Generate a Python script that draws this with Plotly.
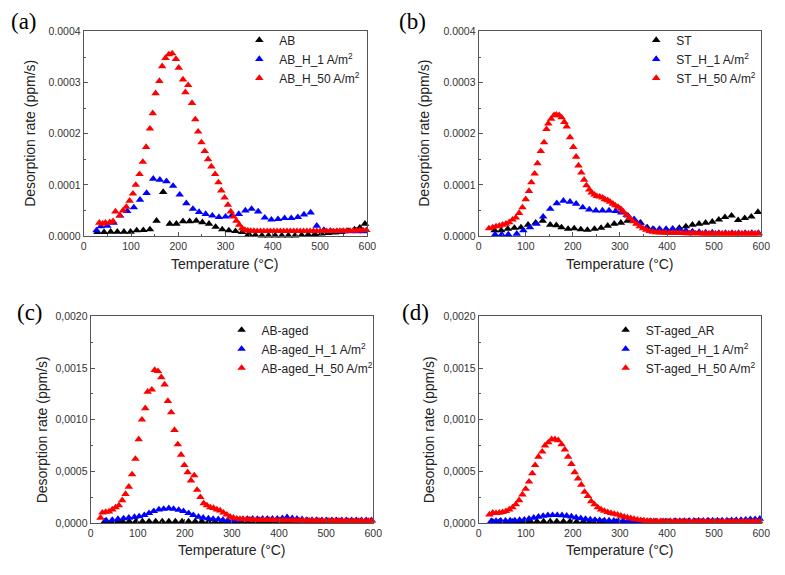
import plotly.graph_objects as go

# ---------------- data (temperature in °C, rate in units noted) ----------------
# Panel (a)  rates in 1e-5 ppm/s
AB = [(29,0.77),(43,0.77),(57,0.83),(71,0.83),(85,0.83),(99,0.83),(112,1.1),(126,1.15),(140,1.3),
      (154,3.0),(168,8.6),(182,2.4),(196,2.4),(210,2.9),(224,2.9),(238,3.0),(251,2.7),(265,2.4),
      (279,1.8),(293,1.3),(307,1.1),(321,0.96),(335,0.77),(349,0.4),(363,0.2),(377,0.1),(391,0.1),
      (405,0.1),(419,0.1),(433,0.1),(447,0.1),(461,0.2),(475,0.3),(489,0.4),(503,0.5),(517,0.6),
      (531,0.7),(545,0.8),(559,1.0),(573,1.3),(584,1.65),(595,2.4)]
AB_H1 = [(27,1.1),(36,1.9),(50,2.0),(63,2.6),(77,4.0),(92,4.9),(106,5.6),(119,7.1),(133,8.4),
         (147,11.2),(161,11.0),(175,10.7),(189,9.8),(203,8.1),(217,6.4),(231,5.3),(244,4.7),
         (258,4.3),(272,4.0),(286,3.7),(300,3.8),(313,4.0),(328,4.3),(342,5.0),(355,5.3),(369,4.8),
         (383,3.6),(397,3.2),(411,3.3),(425,3.5),(439,3.5),(453,3.7),(466,4.2),(480,4.6),(493,2.0),
         (508,1.2),(522,1.0),(536,0.9),(550,0.9),(564,0.9),(578,0.9),(592,0.9)]
AB_H50 = [(33,2.6),(40,2.4),(46,2.6),(55,2.7),(62,2.9),(67,4.8),(76,4.0),(83,5.0),(90,5.7),(97,6.9),
          (104,8.3),(110,10.0),(118,12.1),(125,14.5),(132,17.4),(140,21.0),(146,24.0),(152,27.9),
          (160,30.3),(166,33.2),(173,34.8),(180,35.5),(187,35.7),(195,34.6),(201,32.9),(210,30.6),
          (215,28.1),(221,29.5),(229,26.0),(236,22.8),(242,20.4),(249,18.3),(256,16.6),(263,15.0),
          (270,13.6),(278,12.1),(285,10.5),(291,8.9),(298,7.5),(305,6.1),(311,4.8),(317,3.8),
          (323,3.0),(329,2.2),(335,1.5),(341,1.2),(347,1.05),(353,1.0),(360,1.0),(367,0.95),
          (374,0.95),(381,0.95),(388,0.95),(395,0.95),(402,0.95),(409,0.95),(416,0.95),(423,0.95),
          (430,0.95),(437,0.95),(444,0.95),(451,0.95),(458,0.95),(465,0.95),(472,0.95),(479,0.95),
          (486,0.95),(493,0.95),(500,0.95),(507,0.95),(514,0.95),(521,0.95),(528,0.95),(535,0.95),
          (542,1.0),(549,1.0),(556,1.0),(563,1.0),(570,1.05),(577,1.05),(584,1.1),(591,1.1),(598,1.15)]

# Panel (b)  rates in 1e-5 ppm/s
ST = [(34,1.1),(48,1.1),(62,1.4),(76,1.6),(90,1.7),(105,2.2),(121,2.6),(136,3.0),(152,2.2),
      (165,2.1),(176,1.7),(190,1.4),(203,1.5),(217,1.3),(231,1.2),(246,1.4),(260,1.6),(274,2.0),
      (288,2.4),(302,2.6),(316,3.0),(330,3.1),(344,2.6),(358,1.7),(372,1.3),(386,1.1),(400,1.0),
      (412,1.4),(426,1.6),(440,1.9),(454,2.2),(468,2.4),(482,2.6),(496,2.8),(510,3.2),(523,3.7),
      (537,4.0),(551,3.1),(565,3.5),(579,3.8),(593,4.7)]
ST_H1 = [(35,0.3),(49,0.3),(63,0.3),(81,0.45),(95,1.1),(109,1.7),(123,2.4),(137,3.8),(152,5.3),
         (166,6.4),(180,6.9),(194,6.7),(207,6.3),(221,5.6),(235,5.2),(249,5.0),(263,5.0),(277,5.0),
         (291,4.9),(303,4.6),(317,4.0),(330,3.3),(342,2.5),(356,1.6),(370,1.4),(384,1.4),(398,1.4),
         (412,1.4),(426,1.3),(440,1.1),(454,0.9),(468,0.8),(482,0.7),(496,0.7),(510,0.6),(524,0.6),
         (538,0.6),(552,0.6),(566,0.6),(580,0.6),(594,0.6)]
ST_H50 = [(22,1.5),(30,1.7),(37,1.9),(44,2.0),(51,2.2),(58,2.4),(65,2.7),(72,3.2),(79,3.6),(86,4.5),
          (93,5.6),(100,7.2),(107,8.8),(112,10.5),(119,12.2),(125,14.2),(132,16.6),(139,18.3),
          (144,20.9),(148,22.0),(154,22.9),(160,23.6),(165,23.7),(171,23.6),(176,23.2),(182,22.3),
          (187,21.4),(194,19.3),(201,17.4),(207,15.5),(212,13.8),(218,12.4),(224,11.0),(229,9.9),
          (235,9.1),(240,8.5),(246,8.1),(251,7.8),(257,7.7),(263,7.5),(268,7.2),(274,7.0),(279,6.7),
          (285,6.3),(290,6.0),(296,5.7),(302,5.3),(307,4.8),(314,4.1),(321,3.5),(328,2.9),(335,2.4),
          (342,1.9),(349,1.5),(356,1.2),(363,0.96),(370,0.83),(377,0.75),(384,0.7),(391,0.68),
          (398,0.65),(405,0.62),(412,0.6),(419,0.6),(426,0.58),(433,0.56),(440,0.55),(447,0.55),
          (454,0.53),(461,0.52),(468,0.52),(475,0.5),(482,0.5),(489,0.5),(496,0.5),(503,0.5),
          (510,0.5),(517,0.5),(524,0.5),(531,0.5),(538,0.5),(545,0.5),(552,0.5),(559,0.5),(566,0.5),
          (573,0.5),(580,0.5),(587,0.5),(594,0.5)]

# Panel (c)  rates in 1e-4 ppm/s
ABA = [(30,0.15),(44,0.15),(58,0.15),(68,0.15),(82,0.15),(96,0.15),(110,0.15),(124,0.15),(138,0.15),
       (152,0.15),(166,0.15),(180,0.15),(194,0.15),(208,0.15),(222,0.15),(236,0.15),(250,0.12),
       (264,0.12),(278,0.12),(292,0.12),(306,0.12),(320,0.12),(334,0.12),(348,0.12),(362,0.12),
       (376,0.12),(390,0.12),(404,0.12),(418,0.12),(432,0.12),(446,0.12),(460,0.12),(474,0.12),
       (488,0.12),(502,0.12),(516,0.12),(530,0.12),(544,0.12),(558,0.12),(572,0.12),(586,0.12)]
ABA_H1 = [(33,0.25),(46,0.28),(58,0.38),(70,0.44),(81,0.5),(93,0.57),(103,0.63),(114,0.76),(124,0.95),
          (134,1.14),(145,1.3),(155,1.36),(166,1.42),(176,1.36),(187,1.26),(197,1.14),(208,0.95),
          (218,0.76),(229,0.6),(239,0.5),(250,0.44),(260,0.38),(271,0.35),(281,0.28),(291,0.25),
          (302,0.22),(312,0.3),(323,0.35),(333,0.38),(344,0.4),(354,0.38),(365,0.4),(375,0.42),
          (386,0.4),(396,0.42),(407,0.45),(417,0.55),(428,0.45),(438,0.4),(449,0.35),(459,0.3),
          (470,0.28),(480,0.28),(491,0.27),(501,0.27),(512,0.27),(522,0.27),(533,0.27),(543,0.27),
          (554,0.27),(564,0.27),(575,0.27),(585,0.27),(596,0.27)]
ABA_H50 = [(21,0.5),(25,1.0),(32,1.07),(39,1.1),(46,1.3),(53,1.5),(60,1.7),(67,2.2),(74,2.8),(81,3.5),
           (88,4.7),(95,6.2),(102,8.1),(109,10.0),(116,11.1),(121,12.7),(130,12.9),(136,14.8),
           (143,14.7),(150,14.1),(157,13.4),(164,11.8),(171,10.7),(178,9.0),(185,7.6),(192,6.6),
           (199,5.6),(206,4.9),(213,4.1),(220,4.6),(226,3.2),(233,2.5),(240,1.9),(247,1.7),(254,1.5),
           (261,1.45),(268,1.3),(275,1.2),(282,1.0),(289,0.8),(296,0.6),(303,0.5),(310,0.42),
           (317,0.38),(324,0.36),(331,0.34),(338,0.33),(345,0.32),(352,0.3),(359,0.3),(366,0.3),
           (373,0.28),(380,0.28),(387,0.27),(394,0.27),(401,0.26),(408,0.26),(415,0.25),(422,0.25),
           (429,0.25),(436,0.24),(443,0.24),(450,0.24),(457,0.23),(464,0.23),(471,0.23),(478,0.22),
           (485,0.22),(492,0.22),(499,0.22),(506,0.22),(513,0.21),(520,0.21),(527,0.21),(534,0.21),
           (541,0.21),(548,0.2),(555,0.2),(562,0.2),(569,0.2),(576,0.2),(583,0.2),(590,0.2),(597,0.2)]

# Panel (d)  rates in 1e-4 ppm/s
STA = [(30,0.12),(44,0.12),(58,0.12),(72,0.12),(86,0.12),(100,0.12),(110,0.15),(124,0.15),(138,0.15),
       (152,0.15),(166,0.15),(180,0.15),(194,0.15),(208,0.12),(222,0.12),(236,0.12),(250,0.12),
       (264,0.12),(278,0.12),(292,0.12),(306,0.12),(320,0.12),(334,0.12),(348,0.12),(362,0.12),
       (376,0.12),(390,0.12),(404,0.12),(418,0.12),(432,0.12),(446,0.12),(460,0.12),(474,0.12),
       (488,0.12),(502,0.12),(516,0.12),(530,0.12),(544,0.12),(558,0.12),(572,0.12),(586,0.12)]
STA_H1 = [(27,0.19),(37,0.2),(47,0.22),(57,0.22),(67,0.24),(77,0.25),(87,0.28),(97,0.32),(107,0.4),
          (117,0.5),(127,0.6),(137,0.68),(147,0.74),(157,0.76),(167,0.76),(177,0.74),(187,0.7),
          (197,0.62),(207,0.52),(217,0.45),(227,0.38),(237,0.33),(247,0.3),(257,0.27),(267,0.25),
          (277,0.24),(287,0.22),(297,0.2),(307,0.2),(317,0.18),(327,0.16),(337,0.14),(347,0.12),
          (357,0.12),(367,0.12),(377,0.12),(387,0.13),(397,0.15),(407,0.17),(417,0.19),(427,0.2),
          (437,0.2),(447,0.21),(457,0.21),(467,0.22),(477,0.22),(487,0.23),(497,0.24),(507,0.24),
          (517,0.25),(527,0.25),(537,0.26),(547,0.28),(557,0.3),(567,0.32),(577,0.35),(587,0.37),
          (597,0.4)]
STA_H50 = [(23,0.82),(30,0.98),(37,0.95),(44,0.98),(51,1.04),(58,1.14),(65,1.3),(72,1.5),(79,1.8),
           (86,2.2),(93,2.75),(100,3.3),(107,4.0),(114,4.8),(120,5.6),(127,6.4),(135,6.9),(141,7.5),
           (148,7.8),(155,8.1),(162,8.1),(169,8.0),(176,7.6),(183,7.1),(190,6.4),(197,5.7),(204,4.9),
           (211,4.3),(218,3.7),(225,3.0),(232,2.6),(239,2.1),(246,1.8),(253,1.5),(260,1.3),(267,1.17),
           (274,1.04),(281,0.95),(288,0.88),(295,0.8),(302,0.7),(309,0.6),(316,0.52),(323,0.45),
           (330,0.38),(337,0.32),(344,0.27),(351,0.23),(358,0.2),(365,0.19),(372,0.18),(379,0.17),
           (386,0.17),(393,0.16),(400,0.16),(407,0.16),(414,0.15),(421,0.15),(428,0.15),(435,0.15),
           (442,0.15),(449,0.15),(456,0.15),(463,0.15),(470,0.15),(477,0.15),(484,0.15),(491,0.15),
           (498,0.15),(505,0.15),(512,0.15),(519,0.15),(526,0.15),(533,0.15),(540,0.15),(547,0.15),
           (554,0.15),(561,0.15),(568,0.15),(575,0.15),(582,0.15),(589,0.15),(596,0.15)]

X_TICKS = [0, 100, 200, 300, 400, 500, 600]
Y_TICKS_TOP = [0.0, 0.0001, 0.0002, 0.0003, 0.0004]
Y_LABELS_TOP = ["0.0000", "0.0001", "0.0002", "0.0003", "0.0004"]
Y_TICKS_BOT = [0.0, 0.0005, 0.0010, 0.0015, 0.0020]
Y_LABELS_BOT = ["0,0000", "0,0005", "0,0010", "0,0015", "0,0020"]
X_TITLE = "Temperature (°C)"
Y_TITLE = "Desorption rate (ppm/s)"

SERIES_COLORS = ["#000000", "#0000FF", "#FF0000"]

W, H = 785, 575
SANS = "Liberation Sans, Arial, sans-serif"
SERIF = "Liberation Serif, Times New Roman, serif"


def fx(px):
    return px / W


def fy(py):
    return 1 - py / H


panels = [
    dict(lab="(a)", unit=1e-5, series=[("AB", AB), ("AB_H_1 A/m<sup>2</sup>", AB_H1), ("AB_H_50 A/m<sup>2</sup>", AB_H50)],
         xpx=(82, 370), ypx=(26, 235), yt=Y_TICKS_TOP, yl=Y_LABELS_TOP, ymax=0.0004, ymin_dt=0.00005,
         leg=(240, 20), lab_xy=(21, 16), xt_xy=(225, 263), yt_xy=(28, 130)),
    dict(lab="(b)", unit=1e-5, series=[("ST", ST), ("ST_H_1 A/m<sup>2</sup>", ST_H1), ("ST_H_50 A/m<sup>2</sup>", ST_H50)],
         xpx=(483, 770), ypx=(26, 235), yt=Y_TICKS_TOP, yl=Y_LABELS_TOP, ymax=0.0004, ymin_dt=0.00005,
         leg=(643, 20), lab_xy=(416, 16), xt_xy=(627, 263), yt_xy=(428, 130)),
    dict(lab="(c)", unit=1e-4, series=[("AB-aged", ABA), ("AB-aged_H_1 A/m<sup>2</sup>", ABA_H1), ("AB-aged_H_50 A/m<sup>2</sup>", ABA_H50)],
         xpx=(89, 376), ypx=(317, 528), yt=Y_TICKS_BOT, yl=Y_LABELS_BOT, ymax=0.0020, ymin_dt=0.00025,
         leg=(222, 316), lab_xy=(27, 313), xt_xy=(233, 556), yt_xy=(40, 433)),
    dict(lab="(d)", unit=1e-4, series=[("ST-aged_AR", STA), ("ST-aged_H_1 A/m<sup>2</sup>", STA_H1), ("ST-aged_H_50 A/m<sup>2</sup>", STA_H50)],
         xpx=(483, 770), ypx=(317, 528), yt=Y_TICKS_BOT, yl=Y_LABELS_BOT, ymax=0.0020, ymin_dt=0.00025,
         leg=(612, 316), lab_xy=(419, 313), xt_xy=(627, 556), yt_xy=(433, 433)),
]

fig = go.Figure()
layout = dict(width=W, height=H, margin=dict(l=0, r=0, t=0, b=0), hovermode=False,
              paper_bgcolor="white", plot_bgcolor="white", font=dict(family=SANS, color="#222"),
              annotations=[])

for i, p in enumerate(panels):
    n = "" if i == 0 else str(i + 1)
    xa, ya, lg = "x" + n, "y" + n, "legend" + n
    for (name, data), col in zip(p["series"], SERIES_COLORS):
        xs = [d[0] for d in data]
        ys = [d[1] * p["unit"] for d in data]
        fig.add_trace(go.Scatter(x=xs, y=ys, mode="markers", name=name, xaxis=xa, yaxis=ya, legend=lg,
                                 cliponaxis=False,
                                 marker=dict(symbol="triangle-up", size=7.5, color=col, line=dict(width=0))))
    x0, x1 = p["xpx"]
    yt, yb = p["ypx"]
    axline = dict(showline=True, linecolor="#555", linewidth=1, mirror=True, ticks="inside",
                  ticklen=4, tickcolor="#555", showgrid=False, zeroline=False,
                  tickfont=dict(size=10.5, color="#333", family=SANS))
    layout["xaxis" + n] = dict(axline, domain=[fx(x0), fx(x1)], anchor=ya, range=[0, 600],
                               tickvals=X_TICKS, ticktext=[str(v) for v in X_TICKS],
                               minor=dict(ticks="inside", ticklen=2, tickcolor="#555", dtick=50, tick0=0))
    layout["yaxis" + n] = dict(axline, domain=[fy(yb), fy(yt)], anchor=xa, range=[0, p["ymax"]],
                               tickvals=p["yt"], ticktext=p["yl"],
                               minor=dict(ticks="inside", ticklen=2, tickcolor="#555", dtick=p["ymin_dt"], tick0=0))
    lx, ly = p["leg"]
    layout[lg] = dict(x=fx(lx), y=fy(ly), xanchor="left", yanchor="top", bgcolor="rgba(0,0,0,0)",
                      font=dict(size=12, family=SANS, color="#222"), tracegroupgap=0,
                      itemsizing="trace")
    ann = layout["annotations"]
    ann.append(dict(text=p["lab"], x=fx(p["lab_xy"][0]), y=fy(p["lab_xy"][1]), xref="paper", yref="paper",
                    xanchor="center", yanchor="middle", showarrow=False,
                    font=dict(size=23, family=SERIF, color="#000")))
    ann.append(dict(text=X_TITLE, x=fx(p["xt_xy"][0]), y=fy(p["xt_xy"][1]), xref="paper", yref="paper",
                    xanchor="center", yanchor="middle", showarrow=False,
                    font=dict(size=14, family=SANS, color="#222")))
    ann.append(dict(text=Y_TITLE, x=fx(p["yt_xy"][0]), y=fy(p["yt_xy"][1]), xref="paper", yref="paper",
                    xanchor="center", yanchor="middle", showarrow=False, textangle=-90,
                    font=dict(size=14, family=SANS, color="#222")))

fig.update_layout(**layout)
# remove the browser's default 8px page margin so the figure sits at the window origin
fig.write_html("out.html", config={"displayModeBar": False},
               post_script="document.body.style.margin='0';document.documentElement.style.overflow='hidden';")
